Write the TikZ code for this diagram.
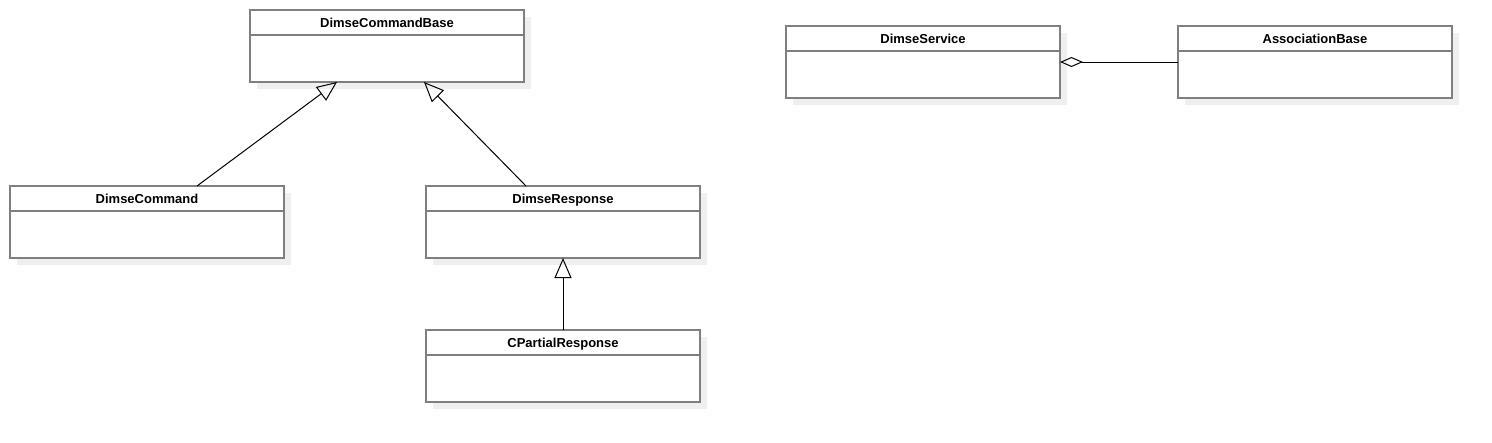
\documentclass[tikz,border=0pt]{standalone}
\usepackage{fontspec}
\setmainfont{Liberation Sans}
\usetikzlibrary{arrows.meta,calc,shadows}
\definecolor{boxgray}{HTML}{7F7F7F}
\definecolor{shadowc}{HTML}{EFEFEF}
\tikzset{
  classbox/.style={draw=boxgray, line width=2pt, fill=white, rectangle,
    minimum width=274pt, minimum height=72pt, outer sep=0pt, inner sep=0pt,
    general shadow={fill=shadowc, shadow xshift=7pt, shadow yshift=-7pt}},
  classtitle/.style={font=\fontsize{13}{15}\selectfont\bfseries, inner sep=0pt, anchor=base},
  headline/.style={draw=boxgray, line width=2pt},
  inherit/.style={draw=black, line width=1pt, -{Triangle[open, length=20pt, width=17pt, line width=1pt]}},
  aggreg/.style={draw=black, line width=1pt, {Diamond[open, length=23pt, width=10pt, line width=1pt]}-},
}
\newcommand{\umlclass}[4]{%
  \node[classbox] (#1) at (#2,#3) {};
  \draw[headline] ($(#1.north west)+(0,25)$) -- ($(#1.north east)+(0,25)$);
  \node[classtitle] (#1T) at ($(#1.north)+(0,17)$) {#4};
}
\begin{document}
\begin{tikzpicture}[x=1pt, y=-1pt]
\useasboundingbox (0,0) rectangle (1492,442);
\umlclass{base}{387}{46}{DimseCommandBase}
\umlclass{cmd}{147}{222}{DimseCommand}
\umlclass{resp}{563}{222}{DimseResponse}
\umlclass{part}{563}{366}{CPartialResponse}
\umlclass{serv}{923}{62}{DimseService}
\umlclass{assoc}{1315}{62}{AssociationBase}
\draw[inherit] ($(cmd.north)+(50,0)$) -- ($(base.south)+(-50,0)$);
\draw[inherit] ($(resp.north)+(-37,0)$) -- ($(base.south)+(37,0)$);
\draw[inherit] (part.north) -- (resp.south);
\draw[aggreg] (serv.east) -- (assoc.west);
\end{tikzpicture}
\end{document}
